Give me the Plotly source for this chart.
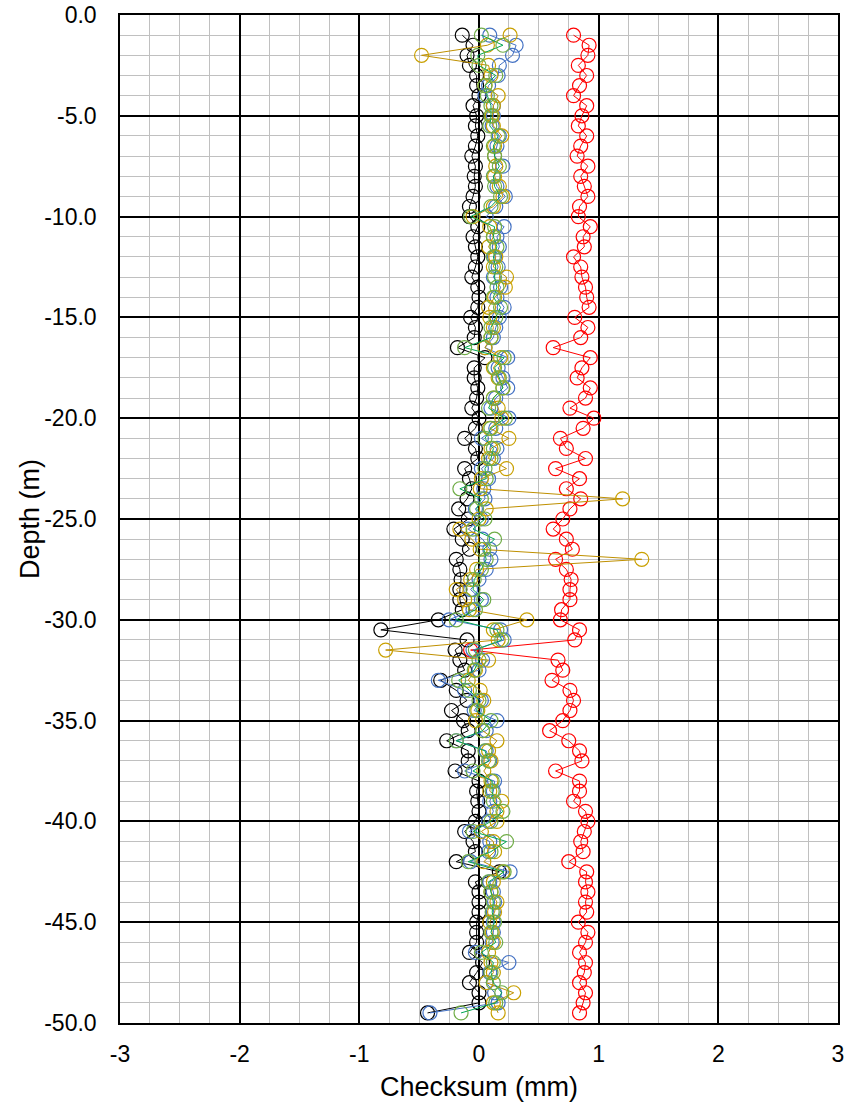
import plotly.graph_objects as go

depth = [-1.0, -1.5, -2.0, -2.5, -3.0, -3.5, -4.0, -4.5, -5.0, -5.5,
         -6.0, -6.5, -7.0, -7.5, -8.0, -8.5, -9.0, -9.5, -10.0, -10.5,
         -11.0, -11.5, -12.0, -12.5, -13.0, -13.5, -14.0, -14.5, -15.0, -15.5,
         -16.0, -16.5, -17.0, -17.5, -18.0, -18.5, -19.0, -19.5, -20.0, -20.5,
         -21.0, -21.5, -22.0, -22.5, -23.0, -23.5, -24.0, -24.5, -25.0, -25.5,
         -26.0, -26.5, -27.0, -27.5, -28.0, -28.5, -29.0, -29.5, -30.0, -30.5,
         -31.0, -31.5, -32.0, -32.5, -33.0, -33.5, -34.0, -34.5, -35.0, -35.5,
         -36.0, -36.5, -37.0, -37.5, -38.0, -38.5, -39.0, -39.5, -40.0, -40.5,
         -41.0, -41.5, -42.0, -42.5, -43.0, -43.5, -44.0, -44.5, -45.0, -45.5,
         -46.0, -46.5, -47.0, -47.5, -48.0, -48.5, -49.0, -49.5]

red = [0.79, 0.92, 0.91, 0.83, 0.90, 0.84, 0.79, 0.90, 0.86, 0.83,
       0.90, 0.85, 0.82, 0.91, 0.85, 0.88, 0.91, 0.84, 0.83, 0.93,
       0.87, 0.88, 0.79, 0.85, 0.86, 0.89, 0.90, 0.92, 0.80, 0.91,
       0.85, 0.62, 0.93, 0.86, 0.82, 0.93, 0.89, 0.76, 0.96, 0.87,
       0.68, 0.73, 0.89, 0.64, 0.84, 0.73, 0.85, 0.76, 0.70, 0.62,
       0.73, 0.78, 0.64, 0.73, 0.77, 0.76, 0.76, 0.69, 0.68, 0.84,
       0.80, -0.07, 0.66, 0.70, 0.61, 0.76, 0.79, 0.76, 0.70, 0.59,
       0.75, 0.84, 0.86, 0.64, 0.84, 0.84, 0.79, 0.89, 0.91, 0.88,
       0.85, 0.87, 0.75, 0.90, 0.89, 0.91, 0.89, 0.90, 0.83, 0.91,
       0.89, 0.84, 0.89, 0.88, 0.84, 0.89, 0.87, 0.84]

black = [-0.14, -0.05, -0.10, -0.08, -0.02, -0.02, 0.00, -0.05, -0.02, -0.03,
         -0.01, -0.03, -0.06, -0.03, -0.04, -0.03, -0.05, -0.08, -0.08, -0.01,
         -0.05, -0.03, -0.01, -0.03, -0.06, -0.01, 0.00, -0.01, -0.07, -0.03,
         -0.04, -0.18, 0.05, -0.04, -0.04, -0.01, -0.02, -0.06, 0.00, -0.03,
         -0.12, -0.03, -0.01, -0.12, -0.08, -0.06, -0.10, -0.17, -0.09, -0.21,
         -0.14, -0.08, -0.19, -0.16, -0.15, -0.16, -0.16, -0.14, -0.34, -0.82,
         -0.10, -0.20, -0.16, -0.12, -0.32, -0.19, -0.10, -0.23, -0.13, -0.09,
         -0.27, -0.09, -0.09, -0.20, 0.00, -0.02, -0.01, 0.00, -0.03, -0.12,
         -0.05, -0.03, -0.19, 0.17, -0.03, 0.00, 0.00, 0.00, -0.02, -0.02,
         -0.02, -0.08, 0.03, -0.02, -0.08, 0.00, 0.00, -0.43]

blue = [0.09, 0.31, 0.28, 0.17, 0.16, 0.08, 0.05, 0.12, 0.12, 0.11,
        0.17, 0.15, 0.13, 0.20, 0.12, 0.15, 0.22, 0.14, 0.06, 0.21,
        0.15, 0.17, 0.13, 0.16, 0.12, 0.18, 0.15, 0.21, 0.17, 0.14,
        0.12, 0.05, 0.24, 0.16, 0.20, 0.24, 0.14, 0.10, 0.25, 0.14,
        0.02, 0.15, 0.12, 0.02, 0.08, 0.04, 0.05, -0.03, 0.02, -0.09,
        0.03, 0.09, 0.10, 0.06, 0.00, -0.07, 0.02, -0.05, -0.25, 0.18,
        0.21, -0.05, 0.03, 0.00, -0.34, -0.12, 0.02, -0.04, 0.15, 0.06,
        -0.19, 0.06, 0.09, -0.12, 0.13, 0.12, 0.09, 0.12, 0.08, -0.08,
        0.09, 0.08, -0.07, 0.26, 0.09, 0.12, 0.13, 0.12, 0.12, 0.12,
        0.11, -0.03, 0.25, 0.09, 0.06, 0.13, 0.16, -0.41]

orange = [0.26, 0.07, -0.48, 0.08, 0.10, 0.05, 0.16, 0.12, 0.11, 0.12,
          0.19, 0.13, 0.13, 0.14, 0.13, 0.17, 0.20, 0.12, -0.05, 0.09,
          0.12, 0.08, 0.14, 0.12, 0.23, 0.22, 0.13, 0.08, 0.09, 0.12,
          0.10, 0.05, 0.18, 0.12, 0.16, 0.20, 0.12, 0.16, 0.19, 0.09,
          0.25, 0.10, 0.08, 0.23, 0.02, 0.01, 1.20, 0.06, 0.00, -0.16,
          -0.06, 0.01, 1.36, -0.02, -0.07, -0.19, -0.12, -0.08, 0.40, 0.12,
          0.16, -0.78, 0.08, -0.03, -0.09, 0.01, 0.04, -0.01, -0.03, 0.03,
          0.15, 0.08, 0.10, 0.04, 0.10, 0.09, 0.19, 0.15, 0.15, 0.02,
          0.12, 0.13, 0.04, 0.20, 0.12, 0.10, 0.15, 0.13, 0.09, 0.11,
          0.12, 0.08, 0.10, 0.12, 0.06, 0.29, 0.12, 0.16]

green = [0.02, 0.20, -0.01, 0.00, 0.14, 0.05, 0.07, 0.10, 0.10, 0.09,
         0.16, 0.12, 0.13, 0.17, 0.12, 0.13, 0.18, 0.10, -0.07, 0.13,
         0.12, 0.15, 0.12, 0.14, 0.13, 0.15, 0.12, 0.18, 0.14, 0.10,
         0.10, -0.12, 0.21, 0.13, 0.17, 0.20, 0.12, 0.08, 0.22, 0.10,
         0.05, 0.12, 0.10, 0.05, 0.06, -0.16, 0.02, -0.02, 0.05, -0.05,
         0.13, 0.04, 0.06, 0.02, -0.04, -0.05, 0.04, -0.03, -0.19, 0.15,
         0.19, -0.03, 0.00, -0.04, -0.17, -0.08, 0.00, -0.02, 0.10, 0.03,
         -0.19, 0.05, 0.08, -0.05, 0.11, 0.11, 0.12, 0.20, 0.10, -0.05,
         0.23, 0.10, -0.09, 0.21, 0.08, 0.10, 0.12, 0.11, 0.13, 0.10,
         0.14, 0.02, 0.12, 0.10, 0.12, 0.19, 0.14, -0.15]

x_ticks = [-3, -2, -1, 0, 1, 2, 3]
y_ticks = [0, -5, -10, -15, -20, -25, -30, -35, -40, -45, -50]

series = [
    ("red", red, "#FF0000", "#FF0000"),
    ("black", black, "#000000", "#000000"),
    ("blue", blue, "#4472C4", "#4472C4"),
    ("orange", orange, "#BF9000", "#C9A000"),
    ("green", green, "#00A651", "#70AD47"),
]

fig = go.Figure()
for name, vals, lc, mc in series:
    fig.add_trace(go.Scatter(
        x=vals, y=depth, mode="lines+markers", name=name,
        line=dict(color=lc, width=1),
        marker=dict(symbol="circle-open", size=14, color=mc, line=dict(width=1.2, color=mc)),
        showlegend=False,
    ))

font = "Arial, Liberation Sans, sans-serif"
fig.update_layout(
    width=846, height=1108,
    margin=dict(l=120, r=8, t=15, b=85),
    paper_bgcolor="white", plot_bgcolor="white",
    font=dict(family=font, color="black"),
    annotations=[
        dict(text="Depth (m)", xref="paper", yref="paper", x=-0.1253, y=0.5,
             textangle=-90, showarrow=False, font=dict(size=27),
             xanchor="center", yanchor="middle"),
        dict(text="Checksum (mm)", xref="paper", yref="paper", x=0.5, y=-0.0635,
             showarrow=False, font=dict(size=27),
             xanchor="center", yanchor="middle"),
    ],
)
fig.update_xaxes(
    range=[-3, 3], tickvals=x_ticks, ticktext=[str(v) for v in x_ticks],
    showgrid=True, gridcolor="black", gridwidth=1.5,
    minor=dict(dtick=0.25, showgrid=True, gridcolor="#C0C0C0", gridwidth=1),
    zeroline=False, showline=True, linecolor="black", linewidth=1.5, mirror=True,
    tickfont=dict(size=23), ticks="", automargin=False, ticklabelstandoff=10,
    ticklabeloverflow="allow",
)
fig.update_yaxes(
    range=[-50, 0], tickvals=y_ticks, ticktext=[f"{v:.1f}" for v in y_ticks],
    showgrid=True, gridcolor="black", gridwidth=1.5,
    minor=dict(dtick=1, showgrid=True, gridcolor="#C0C0C0", gridwidth=1),
    zeroline=False, showline=True, linecolor="black", linewidth=1.5, mirror=True,
    tickfont=dict(size=23), ticks="", automargin=False, ticklabelstandoff=17,
    ticklabeloverflow="allow",
)
fig.write_html(
    "out.html",
    config={"displayModeBar": False},
    post_script="document.body.style.margin='0';document.body.style.overflow='hidden';",
)
